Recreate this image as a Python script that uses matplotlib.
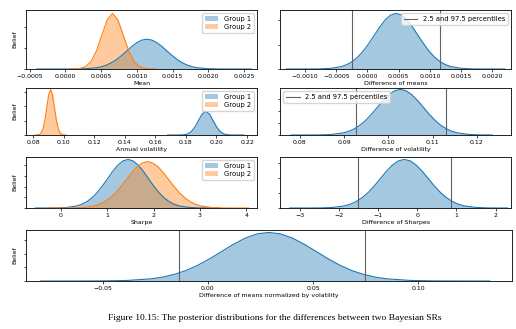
import matplotlib.pyplot as plt

BLUE = "#1f77b4"
ORANGE = "#ff7f0e"
PCT_LABEL = "2.5 and 97.5 percentiles"

# --- mean of daily returns (density) ---
mean_g1_x = [-0.0004, 0.00002, 0.00016, 0.00030, 0.00044, 0.00051, 0.00058, 0.00065, 0.00072,
             0.00079, 0.00086, 0.00093, 0.00100, 0.00107, 0.00114, 0.00121, 0.00128, 0.00135,
             0.00142, 0.00149, 0.00156, 0.00163, 0.00170, 0.00177, 0.00184, 0.00198, 0.00212,
             0.00226, 0.0026]
mean_g1_y = [0, 0.4, 3, 16, 63, 113, 193, 308, 463, 652, 864, 1076, 1258, 1381, 1425,
             1381, 1258, 1076, 864, 652, 463, 308, 193, 113, 63, 16, 3, 0.4, 0]
mean_g2_x = [0.00006, 0.000135, 0.00021, 0.000285, 0.00036, 0.000435, 0.00051, 0.000585, 0.00066,
             0.000735, 0.00081, 0.000885, 0.00096, 0.001035, 0.00111, 0.001185, 0.00126]
mean_g2_y = [1, 6, 30, 117, 360, 864, 1613, 2347, 2660, 2347, 1613, 864, 360, 117, 30, 6, 1]

# --- difference of means ---
dmean_x = [-0.0013, -0.00094, -0.000765, -0.00059, -0.000415, -0.0003275, -0.00024, -0.0001525,
           -0.000065, 0.0000225, 0.00011, 0.0001975, 0.000285, 0.0003725, 0.00046, 0.0005475,
           0.000635, 0.0007225, 0.00081, 0.0008975, 0.000985, 0.0010725, 0.00116, 0.0012475,
           0.001335, 0.00151, 0.001685, 0.00186, 0.0022]
dmean_y = [0, 0.3, 2.5, 12.7, 50, 91, 154, 247, 370, 522, 691, 860, 1006, 1105, 1140,
           1105, 1006, 860, 691, 522, 370, 247, 154, 91, 50, 12.7, 2.5, 0.3, 0]
dmean_pct = [-0.00025, 0.00116]

# --- annual volatility ---
vol_g1_x = [0.168, 0.1738, 0.1762, 0.1786, 0.181, 0.1834, 0.1858, 0.1882, 0.1906, 0.193, 0.1954,
            0.1978, 0.2002, 0.2026, 0.205, 0.2074, 0.2098, 0.2122, 0.218]
vol_g1_y = [0, 0.02, 0.18, 0.92, 3.6, 11.2, 27, 50.4, 73.3, 83.1, 73.3, 50.4, 27, 11.2, 3.6,
            0.92, 0.18, 0.02, 0]
vol_g2_x = [0.0815, 0.08275, 0.084, 0.08525, 0.0865, 0.08775, 0.089, 0.09025, 0.0915, 0.09275,
            0.094, 0.09525, 0.0965, 0.09775, 0.099, 0.10025, 0.1015]
vol_g2_y = [0.05, 0.35, 1.8, 7.0, 21.6, 52, 97, 141, 160, 141, 97, 52, 21.6, 7.0, 1.8, 0.35, 0.05]

# --- difference of volatility ---
dvol_x = [0.078, 0.0819, 0.0845, 0.0871, 0.0897, 0.0910, 0.0923, 0.0936, 0.0949, 0.0962, 0.0975,
          0.0988, 0.1001, 0.1014, 0.1027, 0.1040, 0.1053, 0.1066, 0.1079, 0.1092, 0.1105, 0.1118,
          0.1131, 0.1144, 0.1157, 0.1183, 0.1209, 0.1235]
dvol_y = [0, 0.02, 0.17, 0.85, 3.4, 6.1, 10.4, 16.6, 24.9, 35.1, 46.5, 57.9, 67.7, 74.3, 76.7,
          74.3, 67.7, 57.9, 46.5, 35.1, 24.9, 16.6, 10.4, 6.1, 3.4, 0.85, 0.17, 0.02]
dvol_pct = [0.0927, 0.1129]

# --- Sharpe ratio ---
sr_g1_x = [-0.55, -0.31, -0.09, 0.13, 0.35, 0.46, 0.57, 0.68, 0.79, 0.90, 1.01, 1.12, 1.23, 1.34,
           1.45, 1.56, 1.67, 1.78, 1.89, 2.00, 2.11, 2.22, 2.33, 2.44, 2.55, 2.77, 2.99, 3.21, 3.4]
sr_g1_y = [0, 0.0003, 0.002, 0.010, 0.040, 0.072, 0.123, 0.196, 0.295, 0.415, 0.550, 0.685, 0.800,
           0.879, 0.907, 0.879, 0.800, 0.685, 0.550, 0.415, 0.295, 0.196, 0.123, 0.072, 0.040,
           0.010, 0.002, 0.0003, 0]
sr_g2_x = [-0.3, 0.03, 0.26, 0.49, 0.72, 0.835, 0.95, 1.065, 1.18, 1.295, 1.41, 1.525, 1.64, 1.755,
           1.87, 1.985, 2.10, 2.215, 2.33, 2.445, 2.56, 2.675, 2.79, 2.905, 3.02, 3.25, 3.48, 3.71,
           4.05]
sr_g2_y = [0, 0.0003, 0.0019, 0.0096, 0.038, 0.069, 0.117, 0.188, 0.282, 0.397, 0.526, 0.654, 0.765,
           0.840, 0.867, 0.840, 0.765, 0.654, 0.526, 0.397, 0.282, 0.188, 0.117, 0.069, 0.038,
           0.0096, 0.0019, 0.0003, 0]

# --- difference of Sharpes ---
dsr_x = [-3.25, -2.77, -2.465, -2.16, -1.855, -1.7025, -1.55, -1.3975, -1.245, -1.0925, -0.94,
         -0.7875, -0.635, -0.4825, -0.33, -0.1775, -0.025, 0.1275, 0.28, 0.4325, 0.585, 0.7375,
         0.89, 1.0425, 1.195, 1.50, 1.805, 2.11, 2.3]
dsr_y = [0, 0.0002, 0.0014, 0.0073, 0.0287, 0.052, 0.0885, 0.1415, 0.212, 0.299, 0.397, 0.494,
         0.577, 0.634, 0.654, 0.634, 0.577, 0.494, 0.397, 0.299, 0.212, 0.1415, 0.0885, 0.052,
         0.0287, 0.0073, 0.0014, 0.0002, 0]
dsr_pct = [-1.52, 0.87]

# --- difference of means normalized by volatility ---
dnorm_x = [-0.0795, -0.061, -0.04975, -0.0385, -0.02725, -0.021625, -0.016, -0.010375, -0.00475,
           0.000875, 0.0065, 0.012125, 0.01775, 0.023375, 0.029, 0.034625, 0.04025, 0.045875,
           0.0515, 0.057125, 0.06275, 0.068375, 0.074, 0.079625, 0.08525, 0.0965, 0.10775,
           0.119, 0.134]
dnorm_y = [0, 0.005, 0.039, 0.197, 0.778, 1.411, 2.399, 3.835, 5.757, 8.117, 10.753, 13.383,
           15.647, 17.184, 17.73, 17.184, 15.647, 13.383, 10.753, 8.117, 5.757, 3.835, 2.399,
           1.411, 0.778, 0.197, 0.039, 0.005, 0]
dnorm_pct = [-0.0139, 0.0745]

plt.rcParams["font.family"] = "DejaVu Sans"
FS = 4.5
W, H = 516, 329


def add_axes(fig, x0, x1, y_top, y_bottom):
    # pixel box -> figure fraction
    return fig.add_axes([x0 / W, 1 - y_bottom / H, (x1 - x0) / W, (y_bottom - y_top) / H])


def draw_density(ax, x, y, color, label=None):
    ax.fill_between(x, y, color=color, alpha=0.4, linewidth=0, label=label)
    ax.plot(x, y, color=color, linewidth=0.8)


def style(ax, xlabel, xlim, ymax):
    ax.set_xlim(*xlim)
    ax.set_ylim(0, ymax)
    ax.set_xlabel(xlabel, fontsize=FS, labelpad=1.5)
    ax.set_yticklabels([])
    ax.tick_params(labelsize=FS, length=1.8, width=0.5, pad=1.5)
    for s in ax.spines.values():
        s.set_linewidth(0.6)


def percentiles(ax, vals, label=True):
    for i, v in enumerate(vals):
        ax.axvline(v, color="0.38", linewidth=0.8,
                   label=PCT_LABEL if (label and i == 0) else None)


fig = plt.figure(figsize=(W / 100, H / 100), dpi=100)

rows = [(10, 69), (88, 135), (157, 208), (230, 281)]
LEFT, RIGHT = (26, 257), (280, 511)

leg_kw = dict(fontsize=FS + 0.4, borderpad=0.4, handlelength=2.0, labelspacing=0.3)

# row 1
ax = add_axes(fig, *LEFT, *rows[0])
draw_density(ax, mean_g1_x, mean_g1_y, BLUE, "Group 1")
draw_density(ax, mean_g2_x, mean_g2_y, ORANGE, "Group 2")
style(ax, "Mean", (-0.00055, 0.00268), max(mean_g2_y) * 1.06)
ax.set_yticks([0, 1000, 2000])
ax.set_ylabel("Belief", fontsize=FS, labelpad=3)
ax.legend(loc="upper right", **leg_kw)

ax = add_axes(fig, *RIGHT, *rows[0])
draw_density(ax, dmean_x, dmean_y, BLUE)
percentiles(ax, dmean_pct)
style(ax, "Difference of means", (-0.0014, 0.0023), max(dmean_y) * 1.06)
ax.set_yticks([0, 500, 1000])
ax.legend(loc="upper right", **leg_kw)

# row 2
ax = add_axes(fig, *LEFT, *rows[1])
draw_density(ax, vol_g1_x, vol_g1_y, BLUE, "Group 1")
draw_density(ax, vol_g2_x, vol_g2_y, ORANGE, "Group 2")
style(ax, "Annual volatility", (0.0754, 0.2265), max(vol_g2_y) * 1.03)
ax.set_yticks([0, 50, 100, 150])
ax.set_ylabel("Belief", fontsize=FS, labelpad=3)
ax.legend(loc="upper right", **leg_kw)

ax = add_axes(fig, *RIGHT, *rows[1])
draw_density(ax, dvol_x, dvol_y, BLUE)
percentiles(ax, dvol_pct)
style(ax, "Difference of volatility", (0.0755, 0.1277), max(dvol_y) * 1.03)
ax.set_yticks([0, 20, 40, 60])
ax.legend(loc="upper left", **leg_kw)

# row 3
ax = add_axes(fig, *LEFT, *rows[2])
draw_density(ax, sr_g1_x, sr_g1_y, BLUE, "Group 1")
draw_density(ax, sr_g2_x, sr_g2_y, ORANGE, "Group 2")
style(ax, "Sharpe", (-0.75, 4.23), max(sr_g1_y) * 1.05)
ax.set_yticks([0, 0.2, 0.4, 0.6, 0.8])
ax.set_ylabel("Belief", fontsize=FS, labelpad=3)
ax.legend(loc="upper right", **leg_kw)

ax = add_axes(fig, *RIGHT, *rows[2])
draw_density(ax, dsr_x, dsr_y, BLUE)
percentiles(ax, dsr_pct, label=False)
style(ax, "Difference of Sharpes", (-3.5, 2.39), max(dsr_y) * 1.05)
ax.set_yticks([0, 0.2, 0.4, 0.6])

# row 4
ax = add_axes(fig, 26, 512, *rows[3])
draw_density(ax, dnorm_x, dnorm_y, BLUE)
percentiles(ax, dnorm_pct, label=False)
style(ax, "Difference of means normalized by volatility", (-0.0865, 0.1446), max(dnorm_y) * 1.05)
ax.set_xticks([-0.05, 0.0, 0.05, 0.10])
ax.set_yticks([0, 5, 10, 15])
ax.set_ylabel("Belief", fontsize=FS, labelpad=3)

fig.text(0.533, 0.033,
         "Figure 10.15: The posterior distributions for the differences between two Bayesian SRs",
         ha="center", va="center", fontsize=6.8, family="Liberation Serif")

fig.savefig("out.png", dpi=100)
plt.close(fig)
